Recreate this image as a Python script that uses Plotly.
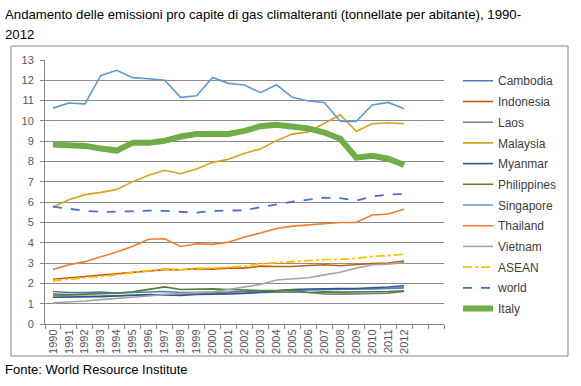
import plotly.graph_objects as go

years = [str(y) for y in range(1990, 2013)]
slots = years + ["2013", "2014"]
tick_labels = years + ["", ""]

cambodia = [1.60, 1.55, 1.55, 1.57, 1.53, 1.55, 1.60, 1.60, 1.55, 1.55, 1.55, 1.57, 1.60, 1.62, 1.65, 1.67, 1.68, 1.70, 1.70, 1.72, 1.73, 1.75, 1.78]
indonesia = [2.20, 2.27, 2.33, 2.40, 2.45, 2.53, 2.62, 2.68, 2.67, 2.72, 2.70, 2.75, 2.75, 2.85, 2.83, 2.83, 2.88, 2.92, 2.87, 2.93, 2.98, 3.00, 3.10]
laos = [1.40, 1.38, 1.37, 1.38, 1.40, 1.42, 1.45, 1.47, 1.48, 1.50, 1.50, 1.52, 1.53, 1.55, 1.57, 1.58, 1.55, 1.48, 1.47, 1.48, 1.52, 1.52, 1.60]
malaysia = [5.76, 6.12, 6.37, 6.48, 6.63, 7.01, 7.32, 7.57, 7.40, 7.63, 7.96, 8.11, 8.41, 8.62, 9.03, 9.35, 9.46, 9.89, 10.30, 9.49, 9.86, 9.91, 9.86]
myanmar = [1.32, 1.32, 1.33, 1.35, 1.38, 1.42, 1.45, 1.43, 1.40, 1.45, 1.48, 1.48, 1.50, 1.57, 1.65, 1.70, 1.72, 1.75, 1.75, 1.75, 1.78, 1.82, 1.88]
philippines = [1.48, 1.45, 1.47, 1.48, 1.52, 1.58, 1.70, 1.83, 1.70, 1.73, 1.73, 1.70, 1.67, 1.65, 1.65, 1.67, 1.55, 1.58, 1.57, 1.57, 1.60, 1.60, 1.63]
singapore = [10.63, 10.88, 10.84, 12.24, 12.49, 12.13, 12.08, 12.00, 11.16, 11.24, 12.14, 11.85, 11.77, 11.39, 11.78, 11.16, 10.98, 10.91, 9.97, 9.97, 10.79, 10.91, 10.60]
thailand = [2.69, 2.92, 3.07, 3.30, 3.55, 3.83, 4.17, 4.20, 3.82, 3.95, 3.92, 4.03, 4.28, 4.48, 4.70, 4.82, 4.87, 4.95, 5.00, 5.00, 5.37, 5.42, 5.65]
vietnam = [1.05, 1.08, 1.13, 1.20, 1.25, 1.32, 1.38, 1.45, 1.50, 1.53, 1.58, 1.70, 1.83, 1.95, 2.17, 2.22, 2.28, 2.42, 2.55, 2.75, 2.92, 2.95, 3.03]
asean = [2.13, 2.20, 2.27, 2.33, 2.42, 2.53, 2.63, 2.72, 2.67, 2.75, 2.75, 2.80, 2.85, 2.97, 3.03, 3.07, 3.12, 3.17, 3.18, 3.23, 3.33, 3.37, 3.43]
world = [5.78, 5.67, 5.57, 5.52, 5.52, 5.55, 5.58, 5.57, 5.52, 5.48, 5.57, 5.57, 5.60, 5.75, 5.90, 6.02, 6.12, 6.22, 6.20, 6.08, 6.28, 6.37, 6.40]
italy = [8.84, 8.80, 8.77, 8.64, 8.54, 8.93, 8.92, 9.02, 9.23, 9.35, 9.38, 9.36, 9.51, 9.74, 9.81, 9.72, 9.63, 9.43, 9.12, 8.19, 8.28, 8.14, 7.83]

series = [
    ("Cambodia", cambodia, "#4A7EBB", 1.6, "solid"),
    ("Indonesia", indonesia, "#C55A11", 1.6, "solid"),
    ("Laos", laos, "#7F7F7F", 1.6, "solid"),
    ("Malaysia", malaysia, "#D9A21B", 1.6, "solid"),
    ("Myanmar", myanmar, "#2F5597", 1.6, "solid"),
    ("Philippines", philippines, "#548235", 1.6, "solid"),
    ("Singapore", singapore, "#5B9BD5", 1.6, "solid"),
    ("Thailand", thailand, "#ED7D31", 1.6, "solid"),
    ("Vietnam", vietnam, "#A5A5A5", 1.6, "solid"),
    ("ASEAN", asean, "#FFC000", 1.8, "dashdot"),
    ("world", world, "#4472C4", 1.8, "dash"),
    ("Italy", italy, "#70AD47", 6, "solid"),
]

W, H = 581, 386
L, R, T, B = 45, 137, 60, 62
pw, ph = W - L - R, H - T - B

def px2paper(x, y):
    return (x - L) / pw, (H - B - y) / ph

fig = go.Figure()
legend_layouts = {}
for i, (name, vals, color, w, dash) in enumerate(series):
    lg = "legend" if i == 0 else f"legend{i + 1}"
    fig.add_trace(go.Scatter(x=years, y=vals, name=name, mode="lines", legend=lg,
                             line=dict(color=color, width=w, dash=dash)))
    center = 88.3 + i * 20.7
    legend_layouts[lg] = dict(x=px2paper(458, 0)[0], xanchor="left",
                              y=px2paper(0, center - 22)[1], yanchor="top",
                              font=dict(size=12, color="#404040"),
                              bgcolor="rgba(0,0,0,0)", itemwidth=30)

x0, y0 = px2paper(11, 46)
x1, y1 = px2paper(568, 356)

fig.update_layout(
    width=W, height=H,
    margin=dict(l=L, r=R, t=T, b=B, pad=0),
    paper_bgcolor="white", plot_bgcolor="white",
    font=dict(family="Liberation Sans, Arial, sans-serif", size=11, color="#595959"),
    xaxis=dict(type="category", categoryorder="array", categoryarray=slots,
               range=[-0.5, len(slots) - 0.5], tickmode="array", tickvals=slots,
               ticktext=tick_labels, tickangle=-90, tickson="boundaries",
               ticks="outside", ticklen=4, tickcolor="#868686",
               showgrid=False, showline=True, linecolor="#868686", linewidth=1,
               tickfont=dict(size=11, color="#595959")),
    yaxis=dict(range=[0, 13], dtick=1, tick0=0, showgrid=True, gridcolor="#8C8C8C",
               gridwidth=1, showline=True, linecolor="#868686", linewidth=1,
               ticks="outside", ticklen=4, tickcolor="#868686", zeroline=False,
               ticklabelstandoff=4, tickfont=dict(size=11, color="#595959")),
    showlegend=True,
    shapes=[dict(type="rect", xref="paper", yref="paper", x0=x0, y0=y0, x1=x1, y1=y1,
                 line=dict(color="#868686", width=1), fillcolor="rgba(0,0,0,0)", layer="below")],
    annotations=[
        dict(text="Andamento delle emissioni pro capite di gas climalteranti (tonnellate per abitante), 1990-",
             xref="paper", yref="paper", x=px2paper(3, 0)[0], y=px2paper(0, 5)[1],
             xanchor="left", yanchor="top", showarrow=False,
             font=dict(size=13.2, color="#000000")),
        dict(text="2012", xref="paper", yref="paper", x=px2paper(3, 0)[0], y=px2paper(0, 25)[1],
             xanchor="left", yanchor="top", showarrow=False,
             font=dict(size=13.2, color="#000000")),
        dict(text="Fonte: World Resource Institute", xref="paper", yref="paper",
             x=px2paper(3, 0)[0], y=px2paper(0, 360)[1], xanchor="left", yanchor="top",
             showarrow=False, font=dict(size=13, color="#000000")),
    ],
)
fig.update_layout(**legend_layouts)

fig.write_html("out.html", config={"displayModeBar": False},
               post_script="document.body.style.margin='0';")
